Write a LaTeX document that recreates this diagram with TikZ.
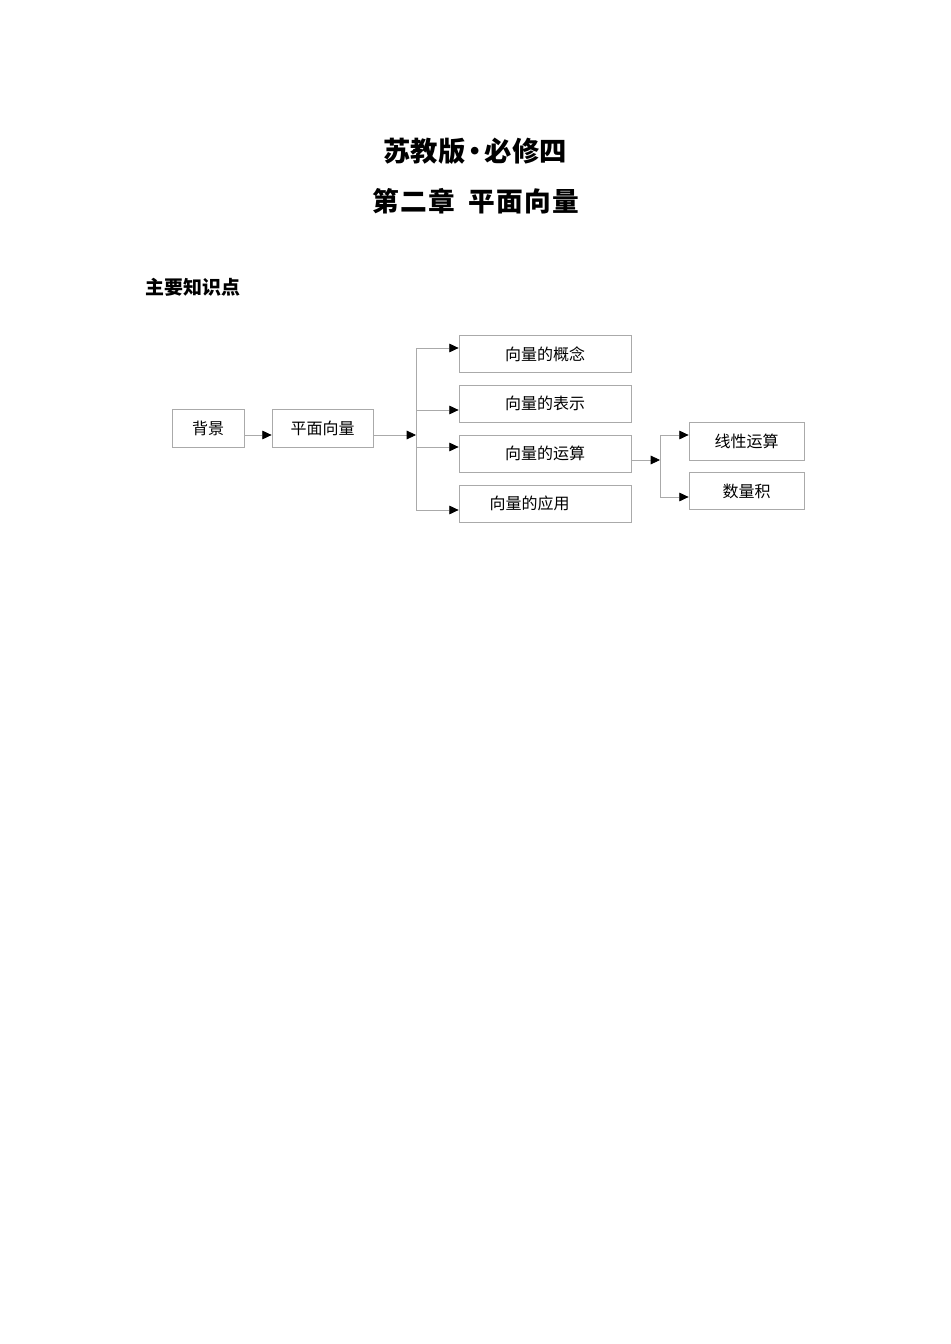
\documentclass[tikz,border=0pt]{standalone}
\usepackage{fontspec}
\setmainfont{Noto Sans CJK SC}
\usetikzlibrary{arrows.meta}

\definecolor{boxgray}{RGB}{170,170,170}

\tikzset{every picture/.style={line width=0.75pt}}
\tikzset{
	kbox/.style={draw=boxgray,line width=0.6pt,rectangle,inner sep=0pt,minimum height=28pt,font=\fontsize{12}{14}\selectfont},
	link/.style={draw=boxgray,line width=0.6pt},
	tip/.style={link,-{Triangle[length=7pt,width=6.5pt,black]}}
}

\begin{document}
\begin{tikzpicture}[x=0.75pt,y=0.75pt,yscale=-1,xscale=1]
	\useasboundingbox (0,0) rectangle (950,1344);

	% Title
	\draw (475,151) node [font=\fontsize{20.5}{24}\selectfont\bfseries] (title) {苏教版\kern-3pt•\kern-3pt必修四};
	% Title
	\draw (476,201) node [font=\fontsize{20}{24}\selectfont\bfseries] (chapter) {第\kern1pt 二\kern1pt 章\kern10pt 平\kern1pt 面\kern1pt 向\kern1pt 量};
	% Text Node
	\draw (141,287) node [anchor=west,font=\fontsize{14.2}{16}\selectfont\bfseries] (heading) {主要知识点};

	%Shape: Rectangle
	\node [kbox,minimum width=54pt] (bg) at (208,428.5) {背景};
	%Shape: Rectangle
	\node [kbox,minimum width=75.75pt] (pm) at (322.5,428.5) {平面向量};

	%Shape: Rectangle
	\node [kbox,minimum width=129pt] (gn) at (545,354) {向量的概念};
	%Shape: Rectangle
	\node [kbox,minimum width=129pt] (bs) at (545,403.7) {向量的表示};
	%Shape: Rectangle
	\node [kbox,minimum width=129pt] (ys) at (545,453.7) {向量的运算};
	%Shape: Rectangle
	\node [kbox,minimum width=129pt] (yy) at (545,503.7) {向量的应用\kern23pt\null};

	%Shape: Rectangle
	\node [kbox,minimum width=86.25pt] (xx) at (746.5,441.3) {线性运算};
	%Shape: Rectangle
	\node [kbox,minimum width=86.25pt] (sl) at (746.5,491) {数量积};

	% trunk points
	\coordinate (t1top) at (416,348);
	\coordinate (t1mid) at (416,435);
	\coordinate (t1bot) at (416,510);
	\coordinate (t2top) at (660,435);
	\coordinate (t2mid) at (660,460);
	\coordinate (t2bot) at (660,497);

	%Straight Lines
	\draw [tip] (bg.east |- t1mid) -- (pm.west |- t1mid);
	\draw [tip] (pm.east |- t1mid) -- (t1mid);
	\draw [link] (t1top) -- (t1bot);
	\draw [tip] (t1top) -- (gn.west |- t1top);
	\draw [tip] (416,410) -- (bs.west |- 416,410);
	\draw [tip] (416,447) -- (ys.west |- 416,447);
	\draw [tip] (t1bot) -- (yy.west |- t1bot);

	%Straight Lines
	\draw [tip] (ys.east |- t2mid) -- (t2mid);
	\draw [link] (t2top) -- (t2bot);
	\draw [tip] (t2top) -- (xx.west |- t2top);
	\draw [tip] (t2bot) -- (sl.west |- t2bot);

\end{tikzpicture}
\end{document}
